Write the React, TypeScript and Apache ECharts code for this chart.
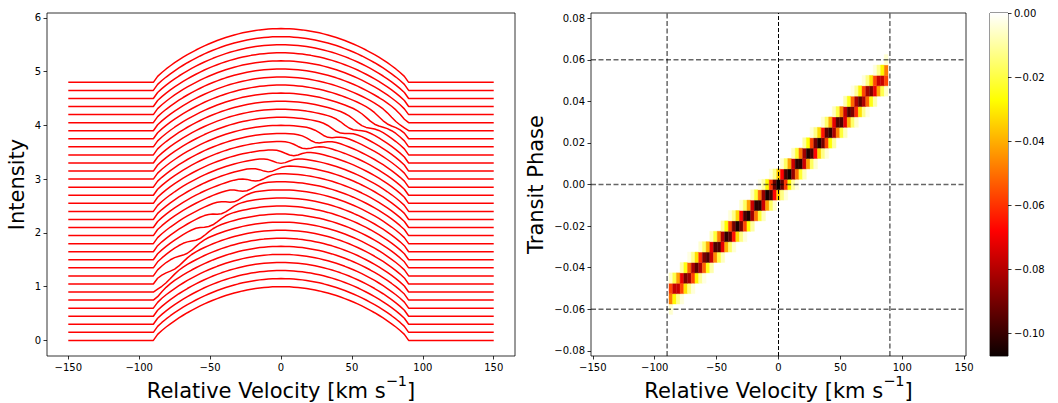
import React, { useEffect, useRef } from "react";
import * as echarts from "echarts";

const FONT = "DejaVu Sans";

// Velocity grid (km/s) shared by the line profiles
const velocityGrid = [
  -150,
  -90, -87, -84, -81, -78, -75, -72, -69, -66, -63, -60, -57, -54, -51, -48, -45, -42, -39, -36, -33, -30,
  -27, -24, -21, -18, -15, -12, -9, -6, -3, 0, 3, 6, 9, 12, 15, 18, 21, 24, 27,
  30, 33, 36, 39, 42, 45, 48, 51, 54, 57, 60, 63, 66, 69, 72, 75, 78, 81, 84, 87, 90,
  150,
];

// Out-of-transit stellar line profile
const baseProfile = [
  0,
  0.0, 0.112, 0.184, 0.249, 0.309, 0.365, 0.418, 0.468, 0.515, 0.559, 0.601, 0.641, 0.679, 0.714, 0.747, 0.778,
  0.807, 0.834, 0.859, 0.881, 0.902, 0.921, 0.937, 0.952, 0.965, 0.976, 0.984, 0.991, 0.996, 0.999,
  1.0,
  0.999, 0.996, 0.991, 0.984, 0.976, 0.965, 0.952, 0.937, 0.921, 0.902, 0.881, 0.859, 0.834, 0.807, 0.778,
  0.747, 0.714, 0.679, 0.641, 0.601, 0.559, 0.515, 0.468, 0.418, 0.365, 0.309, 0.249, 0.184, 0.112, 0.0,
  0,
];

// Phases of the 33 spectra and their vertical offsets in the left panel
const phases = [
  -0.08, -0.075, -0.07, -0.065, -0.06, -0.055, -0.05, -0.045, -0.04, -0.035, -0.03, -0.025, -0.02, -0.015, -0.01,
  -0.005, 0, 0.005, 0.01, 0.015, 0.02, 0.025, 0.03, 0.035, 0.04, 0.045, 0.05, 0.055, 0.06, 0.065, 0.07, 0.075, 0.08,
];
const lineOffsets = [
  0, 0.15, 0.3, 0.45, 0.6, 0.75, 0.9, 1.05, 1.2, 1.35, 1.5, 1.65, 1.8, 1.95, 2.1, 2.25, 2.4, 2.55, 2.7, 2.85,
  3.0, 3.15, 3.3, 3.45, 3.6, 3.75, 3.9, 4.05, 4.2, 4.35, 4.5, 4.65, 4.8,
];

// Planet shadow residuals (in-transit rows), cells of 3 km/s starting at shadowStarts
const shadowPhases = [
  -0.06, -0.055, -0.05, -0.045, -0.04, -0.035, -0.03, -0.025, -0.02, -0.015, -0.01, -0.005, 0,
  0.005, 0.01, 0.015, 0.02, 0.025, 0.03, 0.035, 0.04, 0.045, 0.05, 0.055, 0.06,
];
const shadowStarts = [-87, -87, -87, -87, -78, -72, -63, -54, -45, -39, -30, -21, -15, -6, 3, 12, 21, 27, 36, 45, 54, 60, 69, 78, 87];
const shadowDepths = [
  [-0.005],
  [-0.048, -0.028, -0.012, -0.004],
  [-0.057, -0.077, -0.077, -0.057, -0.032, -0.013, -0.004],
  [-0.006, -0.019, -0.042, -0.071, -0.089, -0.083, -0.057, -0.029, -0.011, -0.003],
  [-0.009, -0.025, -0.052, -0.081, -0.094, -0.081, -0.052, -0.025, -0.009],
  [-0.003, -0.012, -0.032, -0.061, -0.089, -0.096, -0.077, -0.046, -0.02, -0.007],
  [-0.005, -0.016, -0.04, -0.072, -0.096, -0.096, -0.072, -0.04, -0.016, -0.005],
  [-0.007, -0.021, -0.048, -0.081, -0.101, -0.094, -0.065, -0.033, -0.013, -0.004],
  [-0.01, -0.027, -0.057, -0.09, -0.104, -0.09, -0.057, -0.027, -0.01],
  [-0.004, -0.013, -0.034, -0.067, -0.097, -0.104, -0.083, -0.049, -0.022, -0.007],
  [-0.005, -0.017, -0.042, -0.076, -0.102, -0.102, -0.076, -0.042, -0.017, -0.005],
  [-0.007, -0.022, -0.05, -0.085, -0.106, -0.098, -0.068, -0.035, -0.013, -0.004],
  [-0.003, -0.01, -0.028, -0.059, -0.092, -0.107, -0.092, -0.059, -0.028, -0.01, -0.003],
  [-0.004, -0.013, -0.035, -0.068, -0.098, -0.106, -0.085, -0.05, -0.022, -0.007],
  [-0.005, -0.017, -0.042, -0.076, -0.102, -0.102, -0.076, -0.042, -0.017, -0.005],
  [-0.007, -0.022, -0.049, -0.083, -0.104, -0.097, -0.067, -0.034, -0.013, -0.004],
  [-0.01, -0.027, -0.057, -0.09, -0.104, -0.09, -0.057, -0.027, -0.01],
  [-0.004, -0.013, -0.033, -0.065, -0.094, -0.101, -0.081, -0.048, -0.021, -0.007],
  [-0.005, -0.016, -0.04, -0.072, -0.096, -0.096, -0.072, -0.04, -0.016, -0.005],
  [-0.007, -0.02, -0.046, -0.077, -0.096, -0.089, -0.061, -0.032, -0.012, -0.003],
  [-0.009, -0.025, -0.052, -0.081, -0.094, -0.081, -0.052, -0.025, -0.009],
  [-0.003, -0.011, -0.029, -0.057, -0.083, -0.089, -0.071, -0.042, -0.019, -0.006],
  [-0.004, -0.013, -0.032, -0.057, -0.077, -0.077, -0.057],
  [-0.004, -0.012, -0.028, -0.048],
  [-0.005],
];
const CELL_V = 3;
const CELL_P = 0.005;

// Axis ranges / ticks
const leftXTicks = [-150, -100, -50, 0, 50, 100, 150];
const leftYTicks = [0, 1, 2, 3, 4, 5, 6];
const rightXTicks = [-150, -100, -50, 0, 50, 100, 150];
const rightYTicks = [-0.08, -0.06, -0.04, -0.02, 0, 0.02, 0.04, 0.06, 0.08];
const cbarTicks = [-0.1, -0.08, -0.06, -0.04, -0.02, 0];
const CMIN = -0.107;
const CMAX = 0;
const guideVelocities = [-90, 0, 90];
const guidePhases = [-0.06, 0, 0.06];

const RX_MIN = -151.5, RX_MAX = 151.5, RY_MIN = -0.0825, RY_MAX = 0.0825;

const fmt = (v: number, d: number) => (v < 0 ? "\u2212" : "") + Math.abs(v).toFixed(d);

function hotColor(t: number): string {
  t = Math.max(0, Math.min(1, t));
  const r = t < 0.365079 ? 0.0416 + (1 - 0.0416) * (t / 0.365079) : 1;
  const g = t < 0.365079 ? 0 : t < 0.746032 ? (t - 0.365079) / (0.746032 - 0.365079) : 1;
  const b = t < 0.746032 ? 0 : (t - 0.746032) / (1 - 0.746032);
  const h = (x: number) => Math.round(x * 255).toString(16).padStart(2, "0");
  return "#" + h(r) + h(g) + h(b);
}

function residualAt(phase: number, v: number): number {
  const r = shadowPhases.findIndex((p) => Math.abs(p - phase) < 1e-6);
  if (r < 0) return 0;
  const idx = Math.round((v - shadowStarts[r]) / CELL_V);
  const vals = shadowDepths[r];
  if (idx < 0 || idx >= vals.length) return 0;
  if (Math.abs(shadowStarts[r] + idx * CELL_V - v) > 1e-6) return 0;
  return vals[idx];
}

const tickLabel = (extra: any = {}) => ({
  fontSize: 10,
  color: "#000",
  fontFamily: FONT,
  margin: 6,
  ...extra,
});
const tickStyle = (values: number[]) => ({
  show: true,
  customValues: values,
  length: 3.5,
  lineStyle: { color: "#000", width: 0.8 },
});
const hiddenLine = { show: false, onZero: false };

const titleStyle = {
  fontFamily: FONT,
  fontSize: 21,
  color: "#000",
  rich: {
    t: { fontFamily: FONT, fontSize: 21, color: "#000", lineHeight: 36 },
    s: { fontFamily: FONT, fontSize: 14.5, color: "#000", verticalAlign: "top", lineHeight: 36 },
  },
};
const velName = "{t|Relative Velocity [km s}{s|\u22121}{t|]}";

export default function App() {
  const ref = useRef<HTMLDivElement>(null);
  useEffect(() => {
    const chart = echarts.init(ref.current!, undefined, { renderer: "svg" });

    const lineSeries = phases.map((ph, i) => ({
      type: "line",
      xAxisIndex: 0,
      yAxisIndex: 0,
      showSymbol: false,
      symbol: "none",
      silent: true,
      lineStyle: { color: "#ff0000", width: 1.5 },
      data: velocityGrid.map((v, j) => [v, baseProfile[j] + lineOffsets[i] + residualAt(ph, v)]),
    }));

    const heatCells: number[][] = [];
    shadowPhases.forEach((p, r) => {
      shadowDepths[r].forEach((val, k) => heatCells.push([shadowStarts[r] + k * CELL_V, p, val]));
    });

    const heatSeries = {
      type: "custom",
      xAxisIndex: 1,
      yAxisIndex: 1,
      silent: true,
      z: 2,
      data: heatCells,
      encode: { x: 0, y: 1 },
      renderItem: (params: any, api: any) => {
        const v = api.value(0), p = api.value(1), val = api.value(2);
        const a = api.coord([v - CELL_V / 2, p + CELL_P / 2]);
        const b = api.coord([v + CELL_V / 2, p - CELL_P / 2]);
        const c = hotColor((val - CMIN) / (CMAX - CMIN));
        return {
          type: "rect",
          shape: { x: a[0], y: a[1], width: b[0] - a[0], height: b[1] - a[1] },
          style: { fill: c, stroke: c, lineWidth: 0.4 },
        };
      },
    };

    const guideSeries: any[] = [];
    guideVelocities.forEach((gv) => {
      guideSeries.push({
        type: "line",
        xAxisIndex: 1,
        yAxisIndex: 1,
        silent: true,
        z: 5,
        symbol: "none",
        lineStyle: gv === 0
          ? { color: "#000", width: 1, type: [4, 2] }
          : { color: "rgba(0,0,0,0.6)", width: 1.5, type: [5, 2.5] },
        data: [[gv, RY_MIN], [gv, RY_MAX]],
      });
    });
    guidePhases.forEach((gp) => {
      guideSeries.push({
        type: "line",
        xAxisIndex: 1,
        yAxisIndex: 1,
        silent: true,
        z: 5,
        symbol: "none",
        lineStyle: { color: "rgba(0,0,0,0.6)", width: 1.5, type: [5, 2.5] },
        data: [[RX_MIN, gp], [RX_MAX, gp]],
      });
    });

    const cbarSeries = {
      type: "custom",
      xAxisIndex: 2,
      yAxisIndex: 2,
      silent: true,
      data: [[0, CMAX]],
      renderItem: (params: any, api: any) => {
        const a = api.coord([0, CMAX]);
        const b = api.coord([1, CMIN]);
        return {
          type: "rect",
          shape: { x: a[0], y: a[1], width: b[0] - a[0], height: b[1] - a[1] },
          style: {
            fill: new echarts.graphic.LinearGradient(0, 0, 0, 1, [
              { offset: 0, color: "#ffffff" },
              { offset: 1 - 0.746032, color: "#ffff00" },
              { offset: 1 - 0.365079, color: "#ff0000" },
              { offset: 1, color: "#0b0000" },
            ]),
          },
        };
      },
    };

    const gridBase = {
      show: true,
      borderColor: "#000",
      borderWidth: 0.8,
      backgroundColor: "transparent",
      containLabel: false,
      outerBoundsMode: "none",
    };

    chart.setOption({
      animation: false,
      backgroundColor: "#ffffff",
      textStyle: { fontFamily: FONT },
      grid: [
        { ...gridBase, left: 47, top: 13, width: 468, height: 343 },
        { ...gridBase, left: 591, top: 13, width: 375, height: 343 },
        { ...gridBase, left: 990, top: 13, width: 18, height: 343 },
      ],
      xAxis: [
        {
          gridIndex: 0, type: "value", min: -165, max: 165,
          splitLine: { show: false }, axisLine: hiddenLine,
          axisTick: tickStyle(leftXTicks),
          axisLabel: tickLabel({ customValues: leftXTicks, formatter: (v: number) => fmt(v, 0) }),
          name: velName, nameLocation: "middle", nameGap: 17, nameMoveOverlap: false, nameTextStyle: titleStyle,
        },
        {
          gridIndex: 1, type: "value", min: RX_MIN, max: RX_MAX,
          splitLine: { show: false }, axisLine: hiddenLine,
          axisTick: tickStyle(rightXTicks),
          axisLabel: tickLabel({ customValues: rightXTicks, formatter: (v: number) => fmt(v, 0) }),
          name: velName, nameLocation: "middle", nameGap: 17, nameMoveOverlap: false, nameTextStyle: titleStyle,
        },
        {
          gridIndex: 2, type: "value", min: 0, max: 1, show: false,
        },
      ],
      yAxis: [
        {
          gridIndex: 0, type: "value", min: -0.29, max: 6.09,
          splitLine: { show: false }, axisLine: hiddenLine,
          axisTick: tickStyle(leftYTicks),
          axisLabel: tickLabel({ customValues: leftYTicks, formatter: (v: number) => fmt(v, 0) }),
          name: "Intensity", nameLocation: "middle", nameGap: 20, nameMoveOverlap: false,
          nameTextStyle: { fontFamily: FONT, fontSize: 21, color: "#000" },
        },
        {
          gridIndex: 1, type: "value", min: RY_MIN, max: RY_MAX,
          splitLine: { show: false }, axisLine: hiddenLine,
          axisTick: tickStyle(rightYTicks),
          axisLabel: tickLabel({ customValues: rightYTicks, formatter: (v: number) => fmt(v, 2) }),
          name: "Transit Phase", nameLocation: "middle", nameGap: 45, nameMoveOverlap: false,
          nameTextStyle: { fontFamily: FONT, fontSize: 21, color: "#000" },
        },
        {
          gridIndex: 2, type: "value", min: CMIN, max: CMAX, position: "right",
          splitLine: { show: false }, axisLine: hiddenLine,
          axisTick: tickStyle(cbarTicks),
          axisLabel: tickLabel({ customValues: cbarTicks, formatter: (v: number) => fmt(v, 2) }),
        },
      ],
      series: [...lineSeries, heatSeries, ...guideSeries, cbarSeries],
    });

    return () => chart.dispose();
  }, []);

  return (
    <div
      ref={ref}
      style={{ position: "fixed", left: 0, top: 0, width: 1058, height: 403, background: "#fff" }}
    />
  );
}
